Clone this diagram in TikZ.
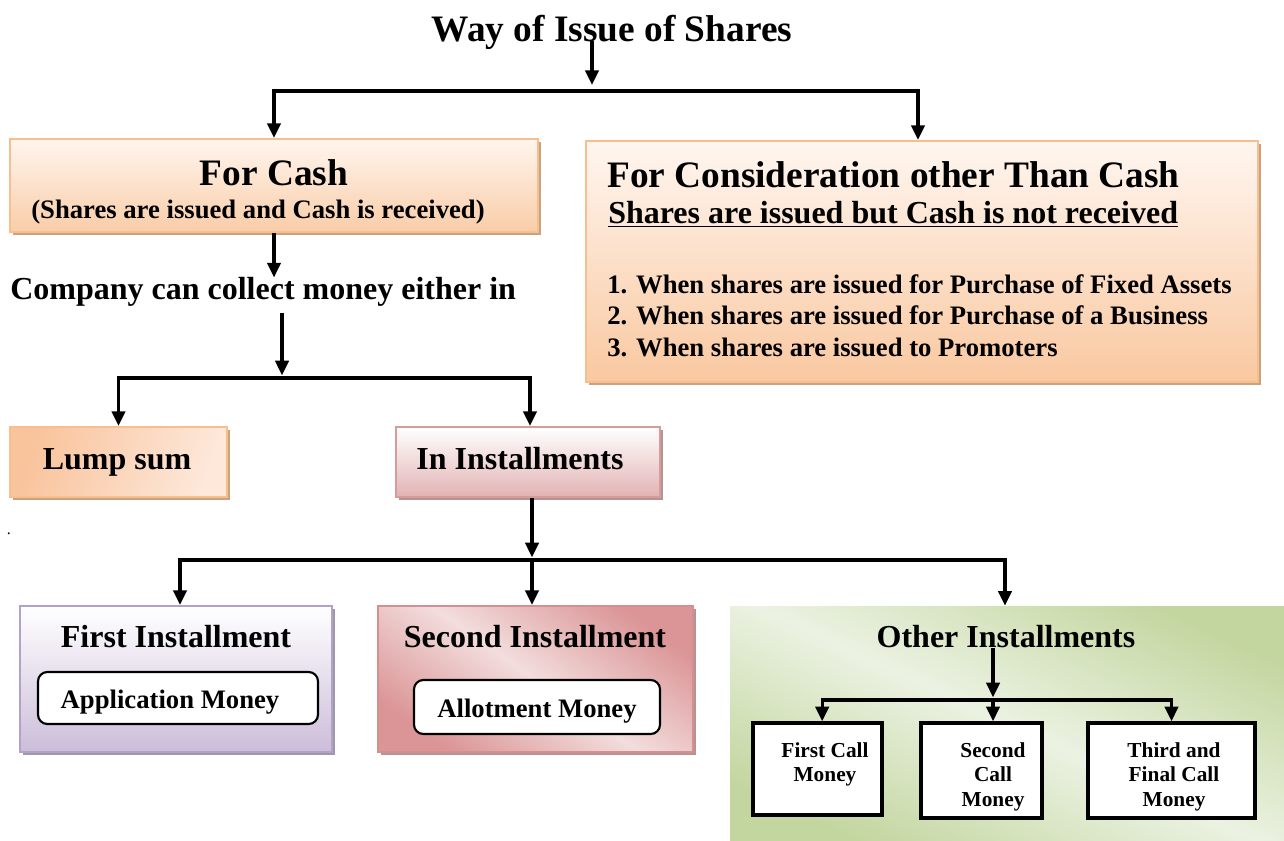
\documentclass[tikz,border=0pt]{standalone}
\usepackage{fontspec}
\setmainfont{Liberation Serif}
\usetikzlibrary{arrows.meta,shadows}

\definecolor{orBorder}{HTML}{F8BE8E}
\definecolor{orShadow}{HTML}{C9A27F}
\definecolor{fcTop}{HTML}{FFF5EE}
\definecolor{fcBot}{HTML}{F9CDA8}
\definecolor{conTop}{HTML}{FFF6F0}
\definecolor{conBot}{HTML}{F9C8A0}
\definecolor{lumpA}{HTML}{F9C39B}
\definecolor{lumpB}{HTML}{FDE8DA}
\definecolor{pkBorder}{HTML}{D79B9C}
\definecolor{pkShadow}{HTML}{B79292}
\definecolor{pkBot}{HTML}{E2B2B3}
\definecolor{puBorder}{HTML}{B1A1CB}
\definecolor{puShadow}{HTML}{9F98A6}
\definecolor{puBot}{HTML}{CCBDD9}
\definecolor{rdCorner}{HTML}{DB9596}
\definecolor{rdMid}{HTML}{F3DDDD}
\definecolor{rdBorder}{HTML}{D58F90}
\definecolor{gnCorner}{HTML}{C4D6A0}
\definecolor{gnMid}{HTML}{EBF2E2}

\newcommand\fBig{\fontsize{28}{32}\selectfont\bfseries}
\newcommand\fMid{\fontsize{24}{28}\selectfont\bfseries}
\newcommand\fSub{\fontsize{20}{24}\selectfont\bfseries}
\newcommand\fSmall{\fontsize{16}{18.4}\selectfont\bfseries}

\begin{document}
\begin{tikzpicture}[x=0.75pt,y=-0.75pt,
  arr/.style={line width=2.4pt,-{Triangle[length=11pt,width=10pt]}},
  panel/.style={draw,line width=1.5pt,inner sep=0pt},
  shadowof/.style={drop shadow={shadow xshift=2.6pt,shadow yshift=-2.6pt,fill=#1,opacity=1}},
  label/.style={anchor=base,inner sep=0pt},
  moneybox/.style={draw=black,line width=1.6pt,fill=white,rounded corners=7pt,inner sep=0pt},
  callbox/.style={draw=black,line width=2.6pt,fill=white,inner sep=0pt}]

\useasboundingbox[fill=white] (0,0) rectangle (1284,841);

% title
\node[label,font=\fBig] (title) at (612,42) {Way of Issue of Shares};

% first level panels
\node[panel,draw=orBorder,top color=fcTop,bottom color=fcBot,
      minimum width=396pt,minimum height=69.75pt,shadowof=orShadow]
      (forcash) at (274,185.5) {};
\node[label,font=\fBig] (fctitle) at (274,186) {For Cash};
\node[label,font=\fSub] (fcsub) at (258,219) {(Shares are issued and Cash is received)};

\node[panel,draw=orBorder,top color=conTop,bottom color=conBot,
      minimum width=504pt,minimum height=180.75pt,shadowof=orShadow]
      (consider) at (922,261.5) {};
\node[label,anchor=base west,font=\fBig] (cntitle) at (607,188) {For Consideration other Than Cash};
\node[label,anchor=base west,font=\fMid] (cnsub) at (608,224) {\underline{Shares are issued but Cash is not received}};
\node[label,anchor=base west,font=\fSub] (cn1) at (607,294) {1. When shares are issued for Purchase of Fixed Assets};
\node[label,anchor=base west,font=\fSub] (cn2) at (607,325) {2. When shares are issued for Purchase of a Business};
\node[label,anchor=base west,font=\fSub] (cn3) at (607,356) {3. When shares are issued to Promoters};

% cash branch
\node[label,anchor=base west,font=\fMid] (company) at (10,300) {Company can collect money either in};

\node[panel,draw=orBorder,left color=lumpA,right color=lumpB,shading angle=70,
      minimum width=162.75pt,minimum height=52.5pt,shadowof=orShadow]
      (lump) at (118.5,462) {};
\node[label,font=\fMid] (lumptxt) at (117,469) {Lump sum};

\node[panel,draw=pkBorder,top color=white,bottom color=pkBot,
      minimum width=198pt,minimum height=52.5pt,shadowof=pkShadow]
      (instal) at (528,462) {};
\node[label,font=\fMid] (instaltxt) at (520,469) {In Installments};

\node[font=\fontsize{12}{14}\selectfont] (dot) at (9,534) {.};

% installments
\node[panel,draw=puBorder,top color=white,bottom color=puBot,
      minimum width=234pt,minimum height=109.5pt,shadowof=puShadow]
      (first) at (176,679) {};
\node[label,font=\fMid] (firsttxt) at (176,647) {First Installment};
\node[moneybox,minimum width=210pt,minimum height=39pt] (appbox) at (178,698) {};
\node[label,font=\fSub] (apptxt) at (170,708) {Application Money};

\node[panel,draw=rdBorder,top color=rdCorner,bottom color=rdCorner,middle color=rdMid,
      shading angle=-35,minimum width=236.25pt,minimum height=109.5pt,shadowof=pkShadow]
      (second) at (535.5,679) {};
\node[label,font=\fMid] (secondtxt) at (535,647) {Second Installment};
\node[moneybox,minimum width=184.5pt,minimum height=40.5pt] (allotbox) at (537,707) {};
\node[label,font=\fSub] (allottxt) at (537,717) {Allotment Money};

\node[inner sep=0pt,top color=gnCorner,bottom color=gnCorner,middle color=gnMid,
      shading angle=-25,minimum width=415.5pt,minimum height=176.25pt]
      (other) at (1007,723.5) {};
\node[label,font=\fMid] (othertxt) at (1006,647) {Other Installments};

\node[callbox,minimum width=96.75pt,minimum height=69pt] (c1) at (817.5,769) {};
\node[anchor=north,inner sep=0pt,align=center,font=\fSmall] (c1txt) at (825,742) {First Call\\Money};
\node[callbox,minimum width=90.75pt,minimum height=71.25pt] (c2) at (981.5,770.5) {};
\node[anchor=north,inner sep=0pt,align=center,font=\fSmall] (c2txt) at (993,742) {Second\\Call\\Money};
\node[callbox,minimum width=125.25pt,minimum height=71.25pt] (c3) at (1171.5,770.5) {};
\node[anchor=north,inner sep=0pt,align=center,font=\fSmall] (c3txt) at (1174,742) {Third and\\Final Call\\Money};

% junctions of the connector trees
\coordinate (j1) at (592,91);
\coordinate (j2) at (282,378);
\coordinate (j3) at (532,560);
\coordinate (j4) at (993,700);

% connectors
\draw[arr] ([yshift=1pt]title.base -| j1) -- ([yshift=4.5pt]j1);
\draw[arr] (j1) -| (forcash.north);
\draw[arr] (j1) -| ([xshift=-3pt]consider.north);

\draw[arr] (forcash.south) -- (forcash.south |- company.north);
\draw[arr] ([yshift=-4pt]company.south -| j2) -- ([yshift=2pt]j2);
\draw[arr] (j2) -| (lump.north);
\draw[arr] (j2) -| ([xshift=1.5pt]instal.north);

\draw[arr] (instal.south -| j3) -- ([yshift=2pt]j3);
\draw[arr] (j3) -| ([xshift=3pt]first.north);
\draw[arr] (j3) -- (j3 |- second.north);
\draw[arr] (j3) -| ([xshift=-1.5pt]other.north);

\draw[arr] (othertxt.south -| j4) -- ([yshift=2pt]j4);
\draw[arr] (j4) -| ([xshift=3.5pt]c1.north);
\draw[arr] (j4) -- (j4 |- c2.north);
\draw[arr] (j4) -| (c3.north);

\end{tikzpicture}
\end{document}
